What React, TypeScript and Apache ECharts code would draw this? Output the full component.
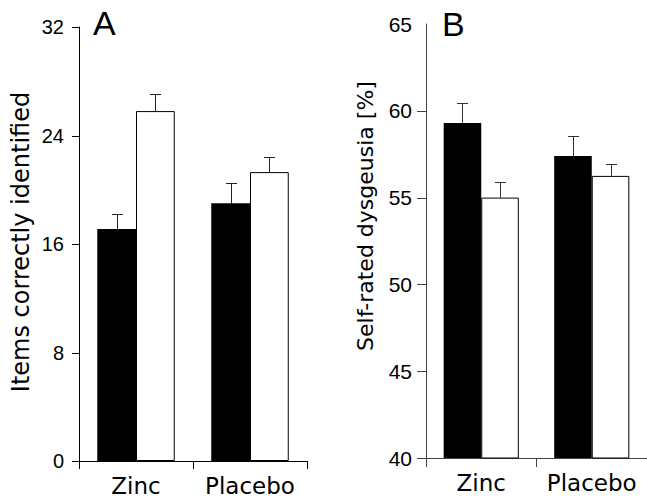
import React, { useEffect, useRef } from "react";
import * as echarts from "echarts";

const categories = ["Zinc", "Placebo"];

const aBlack = [17.1, 19.0];
const aBlackErr = [1.1, 1.5];
const aWhite = [25.8, 21.3];
const aWhiteErr = [1.25, 1.15];

const bBlack = [59.3, 57.4];
const bBlackErr = [1.15, 1.15];
const bWhite = [55.0, 56.25];
const bWhiteErr = [0.9, 0.7];

const aTicks = [0, 8, 16, 24, 32];
const bTicks = [40, 45, 50, 55, 60, 65];
const bTickMarks = [40, 45, 50, 55, 60];

const yNameA = "Items correctly identified";
const yNameB = "Self-rated dysgeusia [%]";

const GAP = 0.32;

function errSeries(values: number[], errs: number[], side: number, idx: number, color: string) {
  return {
    type: "custom",
    xAxisIndex: idx,
    yAxisIndex: idx,
    z: 5,
    encode: { x: 0, y: 1 },
    data: values.map((v, i) => [i, v, errs[i]]),
    renderItem: (params: any, api: any) => {
      const c = api.coord([api.value(0), api.value(1)]);
      const t = api.coord([api.value(0), api.value(1) + api.value(2)]);
      const catW = api.size([1, 0])[0];
      const bw = (catW * (1 - GAP)) / 2;
      const x = Math.round(c[0] + (side * bw) / 2) + 0.5;
      const y0 = c[1];
      const y1 = Math.round(t[1]) + 0.5;
      return {
        type: "group",
        children: [
          { type: "line", shape: { x1: x, y1: y0, x2: x, y2: y1 }, style: { stroke: color, lineWidth: 1 } },
          { type: "line", shape: { x1: x - 5.5, y1: y1, x2: x + 5.5, y2: y1 }, style: { stroke: color, lineWidth: 1 } },
        ],
      };
    },
  };
}

// y-axis line and tick marks as thin filled rects, placed through the axis scale
function yAxisSeries(ticks: number[], idx: number, len: number, color: string) {
  return {
    type: "custom",
    xAxisIndex: idx,
    yAxisIndex: idx,
    z: 50,
    clip: false,
    silent: true,
    encode: { x: 0, y: 1 },
    data: ticks.map((v) => [0, v]),
    renderItem: (params: any, api: any) => {
      const cs = params.coordSys;
      const ax = Math.round(cs.x);
      const y = Math.round(api.coord([0, api.value(1)])[1]);
      const children: any[] = [
        { type: "rect", shape: { x: ax - len, y: y, width: len + 1, height: 1 }, style: { fill: color } },
      ];
      if (params.dataIndex === 0) {
        children.push({
          type: "rect",
          shape: { x: ax, y: Math.round(cs.y), width: 1, height: Math.round(cs.height) + 1 },
          style: { fill: color },
        });
      }
      return { type: "group", children };
    },
  };
}

export default function App() {
  const ref = useRef<HTMLDivElement>(null);
  useEffect(() => {
    if (!ref.current) return;
    const chart = echarts.init(ref.current, undefined, { renderer: "svg" });
    const axisColA = "#000";
    const axisColB = "#444";
    const tickFont = "Liberation Sans";
    const nameFont = "DejaVu Sans";
    chart.setOption({
      animation: false,
      backgroundColor: "#fff",
      grid: [
        { left: 79, top: 27, width: 228, height: 434 },
        { left: 426, top: 24, width: 228, height: 434 },
      ],
      xAxis: [0, 1].map((i) => ({
        type: "category",
        gridIndex: i,
        data: categories,
        boundaryGap: true,
        axisLine: { show: true, onZero: false, lineStyle: { color: i === 0 ? axisColA : axisColB, width: 1 } },
        axisTick: { show: true, length: i === 0 ? 8 : 9, lineStyle: { color: i === 0 ? axisColA : axisColB } },
        axisLabel: { color: "#000", fontSize: 23, fontFamily: nameFont, margin: 13, interval: 0 },
        splitLine: { show: false },
      })),
      yAxis: [
        {
          type: "value",
          gridIndex: 0,
          position: "left",
          min: aTicks[0],
          max: aTicks[aTicks.length - 1],
          interval: 8,
          axisLine: { show: true, onZero: false, lineStyle: { color: axisColA, width: 1 } },
          axisTick: { show: false },
          axisLabel: { color: "#000", fontSize: 20, fontFamily: tickFont, margin: 15 },
          splitLine: { show: false },
        },
        {
          type: "value",
          gridIndex: 1,
          position: "left",
          min: bTicks[0],
          max: bTicks[bTicks.length - 1],
          interval: 5,
          axisLine: { show: true, onZero: false, lineStyle: { color: axisColB, width: 1 } },
          axisTick: { show: false },
          axisLabel: { color: "#000", fontSize: 21, fontFamily: tickFont, margin: 14 },
          splitLine: { show: false },
        },
      ],
      series: [
        {
          name: "Black A",
          type: "bar",
          xAxisIndex: 0,
          yAxisIndex: 0,
          data: aBlack,
          barGap: "0%",
          barCategoryGap: "32%",
          itemStyle: { color: "#000" },
        },
        {
          name: "White A",
          type: "bar",
          xAxisIndex: 0,
          yAxisIndex: 0,
          data: aWhite,
          barGap: "0%",
          barCategoryGap: "32%",
          itemStyle: { color: "#fff", borderColor: "#000", borderWidth: 1 },
        },
        {
          name: "Black B",
          type: "bar",
          xAxisIndex: 1,
          yAxisIndex: 1,
          data: bBlack,
          barGap: "0%",
          barCategoryGap: "32%",
          itemStyle: { color: "#000" },
        },
        {
          name: "White B",
          type: "bar",
          xAxisIndex: 1,
          yAxisIndex: 1,
          data: bWhite,
          barGap: "0%",
          barCategoryGap: "32%",
          itemStyle: { color: "#fff", borderColor: "#000", borderWidth: 1 },
        },
        errSeries(aBlack, aBlackErr, -1, 0, "#222"),
        errSeries(aWhite, aWhiteErr, 1, 0, "#222"),
        errSeries(bBlack, bBlackErr, -1, 1, "#333"),
        errSeries(bWhite, bWhiteErr, 1, 1, "#333"),
        yAxisSeries(aTicks, 0, 7, axisColA),
        yAxisSeries(bTickMarks, 1, 9, axisColB),
      ],
      graphic: [
        {
          type: "text",
          x: 21,
          y: 242,
          rotation: Math.PI / 2,
          style: { text: yNameA, fontSize: 24, fontFamily: nameFont, fill: "#000", textAlign: "center", textVerticalAlign: "middle" },
        },
        {
          type: "text",
          x: 365,
          y: 216,
          rotation: Math.PI / 2,
          style: { text: yNameB, fontSize: 22, fontFamily: nameFont, fill: "#000", textAlign: "center", textVerticalAlign: "middle" },
        },
        {
          type: "text",
          x: 93,
          y: 23,
          style: { text: "A", fontSize: 34, fontFamily: tickFont, fill: "#000", textAlign: "left", textVerticalAlign: "middle" },
        },
        {
          type: "text",
          x: 442,
          y: 24,
          style: { text: "B", fontSize: 34, fontFamily: tickFont, fill: "#000", textAlign: "left", textVerticalAlign: "middle" },
        },
      ],
    });
    return () => chart.dispose();
  }, []);
  return (
    <div
      ref={ref}
      style={{ position: "absolute", left: 0, top: 0, width: 647, height: 498, overflow: "hidden" }}
    />
  );
}
